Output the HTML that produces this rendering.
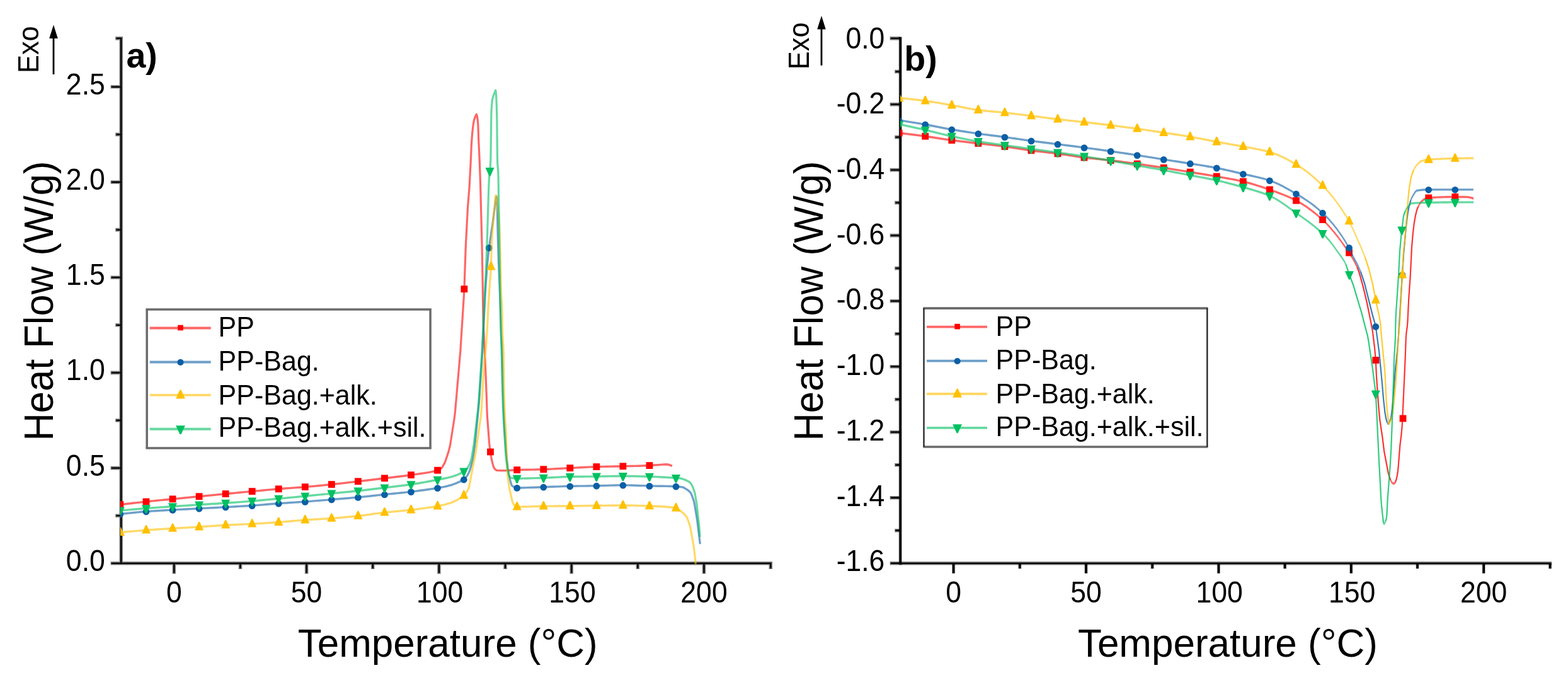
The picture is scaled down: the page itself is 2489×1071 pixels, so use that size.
<!DOCTYPE html>
<html lang="en"><head><meta charset="utf-8"><title>DSC curves: cooling (a) and heating (b)</title>
<style>html,body{margin:0;padding:0;background:#fff}body{width:2489px;height:1071px;overflow:hidden}svg{display:block}text{font-family:"Liberation Sans", sans-serif;fill:#000}</style></head><body>
<svg width="2489" height="1071" viewBox="0 0 2489 1071" role="img" aria-label="DSC thermograms of PP and PP-bagasse composites: a) cooling, b) heating">
<rect width="2489" height="1071" fill="#fff"/>
<g id="panel-a">
<path d="M192.2 58.1 V896.6 M276.3 893.8 V910.4 M486.6 893.8 V910.4 M696.9 893.8 V910.4 M907.2 893.8 V910.4 M1117.5 893.8 V910.4 M381.45 893.8 V903 M591.75 893.8 V903 M802.05 893.8 V903 M1012.35 893.8 V903 M1223.3 893.8 V903 M189.4 893.8 H1226.1 M175.6 893.8 H192.2 M175.6 742.6 H192.2 M175.6 591.4 H192.2 M175.6 440.2 H192.2 M175.6 289 H192.2 M175.6 137.8 H192.2 M183.2 818.2 H192.2 M183.2 667 H192.2 M183.2 515.8 H192.2 M183.2 364.6 H192.2 M183.2 213.4 H192.2 M183.2 60.9 H192.2" stroke="#000" stroke-opacity="0.5" stroke-width="5.6" fill="none"/>
<path d="M192.2 59.75 V894.95 M276.3 893.8 V909.2 M486.6 893.8 V909.2 M696.9 893.8 V909.2 M907.2 893.8 V909.2 M1117.5 893.8 V909.2 M381.45 893.8 V901.8 M591.75 893.8 V901.8 M802.05 893.8 V901.8 M1012.35 893.8 V901.8 M1223.3 893.8 V901.8 M191.05 893.8 H1224.45 M176.8 893.8 H192.2 M176.8 742.6 H192.2 M176.8 591.4 H192.2 M176.8 440.2 H192.2 M176.8 289 H192.2 M176.8 137.8 H192.2 M184.4 818.2 H192.2 M184.4 667 H192.2 M184.4 515.8 H192.2 M184.4 364.6 H192.2 M184.4 213.4 H192.2 M184.4 60.9 H192.2" stroke="#000" stroke-width="2.3" fill="none"/>
<g font-size="47.4" fill="#000">
<text transform="translate(276.3 955.6) scale(0.94 1)" text-anchor="middle">0</text>
<text transform="translate(486.6 955.6) scale(0.94 1)" text-anchor="middle">50</text>
<text transform="translate(698.2 955.6) scale(0.94 1)" text-anchor="middle">100</text>
<text transform="translate(908.5 955.6) scale(0.94 1)" text-anchor="middle">150</text>
<text transform="translate(1117.5 955.6) scale(0.94 1)" text-anchor="middle">200</text>
<text transform="translate(166.8 905.8) scale(0.94 1)" text-anchor="end">0.0</text>
<text transform="translate(166.8 754.6) scale(0.94 1)" text-anchor="end">0.5</text>
<text transform="translate(166.8 603.4) scale(0.94 1)" text-anchor="end">1.0</text>
<text transform="translate(166.8 452.2) scale(0.94 1)" text-anchor="end">1.5</text>
<text transform="translate(166.8 301) scale(0.94 1)" text-anchor="end">2.0</text>
<text transform="translate(166.8 149.8) scale(0.94 1)" text-anchor="end">2.5</text>
</g>
<rect x="233.2" y="491" width="449.9" height="220" fill="#fff"/>
<path d="M231.45 491H684.85 M231.45 711H684.85" stroke="#6b6b6b" stroke-width="3.5" fill="none"/>
<path d="M233.2 491V711 M683.1 491V711" stroke="#6b6b6b" stroke-width="3.5" fill="none"/>
<path d="M237.7 520.5 H334.7" stroke="#ff0000" stroke-opacity="0.6" stroke-width="3.9" fill="none"/>
<rect x="282.18" y="515.68" width="8.64" height="8.64" fill="#ff0000"/>
<text transform="translate(346.6 533.6) scale(0.96 1)" font-size="44.8">PP</text>
<path d="M237.7 574.5 H334.7" stroke="#0b5fa5" stroke-opacity="0.6" stroke-width="3.9" fill="none"/>
<circle cx="286.5" cy="574.9" r="5.08" fill="#0b5fa5"/>
<text transform="translate(346.6 588.1) scale(0.96 1)" font-size="44.8">PP-Bag.</text>
<path d="M237.7 626.9 H334.7" stroke="#ffc000" stroke-opacity="0.6" stroke-width="3.9" fill="none"/>
<path d="M285.45 618.61H287.55L293.85 632.57H279.15Z" fill="#ffc000"/>
<text transform="translate(346.6 641.5) scale(0.96 1)" font-size="44.8">PP-Bag.+alk.</text>
<path d="M237.7 680.8 H334.7" stroke="#00c060" stroke-opacity="0.6" stroke-width="3.9" fill="none"/>
<path d="M279.15 675.13H293.85L287.55 689.09H285.45Z" fill="#00c060"/>
<text transform="translate(346.6 693.4) scale(0.96 1)" font-size="44.8">PP-Bag.+alk.+sil.</text>
<clipPath id="clip-a"><rect x="191.2" y="0" width="1100" height="894"/></clipPath>
<g id="ca-red">
<path transform="scale(0.9412 1)" d="M204.53 800.5 L211.17 799.75 L217.81 799.02 L224.45 798.29 L231.09 797.59 L237.73 796.89 L244.37 796.21 L251.02 795.55 L257.66 794.91 L264.3 794.28 L270.94 793.66 L277.58 793.05 L284.22 792.44 L290.86 791.83 L297.5 791.21 L304.14 790.6 L310.78 789.99 L317.42 789.39 L324.06 788.78 L330.7 788.17 L337.34 787.56 L343.98 786.95 L350.62 786.34 L357.27 785.73 L363.91 785.12 L370.55 784.51 L377.19 783.9 L383.83 783.3 L390.47 782.7 L397.11 782.1 L403.75 781.5 L410.39 780.91 L417.03 780.32 L423.67 779.73 L430.31 779.15 L436.95 778.57 L443.59 777.99 L450.23 777.42 L456.87 776.85 L463.52 776.31 L470.16 775.78 L476.8 775.28 L483.44 774.81 L490.08 774.36 L496.72 773.9 L503.36 773.44 L510 772.95 L516.64 772.43 L523.28 771.89 L529.92 771.32 L536.56 770.73 L543.2 770.13 L549.84 769.51 L556.48 768.87 L563.12 768.22 L569.77 767.53 L576.41 766.83 L583.05 766.11 L589.69 765.37 L596.33 764.64 L602.97 763.9 L609.61 763.18 L616.25 762.44 L622.89 761.7 L629.53 760.96 L636.17 760.21 L642.81 759.46 L649.45 758.7 L656.09 757.96 L662.73 757.23 L669.37 756.5 L676.02 755.75 L682.66 754.97 L689.3 754.13 L695.94 753.24 L702.58 752.4 L709.22 751.56 L715.86 750.66 L722.5 749.61 L729.14 748.34 L735.78 746.79 L741.62 744.78 L744.02 743.3 L745.87 741.32 L750.66 733.08 L756.5 716.6 L759.16 706.48 L765.8 666.66 L767.39 655.56 L774.03 583.86 L776.42 557.47 L782.27 471.36 L783.06 456.41 L785.45 391.39 L788.91 329 L791.56 298 L793.95 255.08 L795.02 231.6 L796.34 212.84 L797.67 201.01 L798.73 194.18 L799.53 190.6 L800.86 186.65 L802.98 182.22 L803.57 181.3 L803.83 181.74 L804.37 183.42 L805.16 187.21 L805.69 191.18 L806.22 197 L806.49 202.64 L807.02 218.69 L808.88 256.49 L810.21 293.17 L812.87 390.24 L814.19 457.05 L814.72 495.14 L814.99 507.24 L815.52 521.2 L818.97 589.33 L820.83 635.98 L821.37 652.31 L821.9 662.33 L825.08 702.39 L825.88 709.25 L829.33 730.01 L831.46 737.93 L832.79 741.45 L833.58 742.91 L836.24 745.38 L838.1 746.38 L844.74 746.6 L851.38 746.59 L858.02 746.35 L864.66 745.95 L871.3 745.62 L877.94 745.45 L884.58 745.31 L891.22 745.19 L897.87 745.09 L904.51 744.98 L911.15 744.84 L917.79 744.67 L924.43 744.43 L931.07 744.14 L937.71 743.82 L944.35 743.47 L950.99 743.11 L957.63 742.78 L964.27 742.46 L970.91 742.13 L977.55 741.8 L984.19 741.46 L990.83 741.15 L997.47 740.87 L1004.12 740.65 L1010.76 740.49 L1017.4 740.36 L1024.04 740.24 L1030.68 740.14 L1037.32 740.04 L1043.96 739.93 L1050.6 739.8 L1057.24 739.66 L1063.88 739.52 L1070.52 739.37 L1077.16 739.21 L1083.8 739.01 L1090.44 738.79 L1097.08 738.52 L1103.72 738.07 L1110.37 737.6 L1117.01 737.14 L1123.65 736.82 L1127.63 737.1 L1133.69 739.4" fill="none" stroke="#ff0000" stroke-linejoin="round" stroke-width="3.4" stroke-opacity="0.6"/>
<g clip-path="url(#clip-a)"><rect x="185.4" y="795.1" width="10.8" height="10.8" fill="#ff0000"/></g>
<rect x="226.6" y="790.6" width="10.8" height="10.8" fill="#ff0000"/>
<rect x="268.65" y="786.4" width="10.8" height="10.8" fill="#ff0000"/>
<rect x="310.7" y="782.3" width="10.8" height="10.8" fill="#ff0000"/>
<rect x="352.75" y="778.2" width="10.8" height="10.8" fill="#ff0000"/>
<rect x="394.8" y="774.2" width="10.8" height="10.8" fill="#ff0000"/>
<rect x="436.85" y="770.4" width="10.8" height="10.8" fill="#ff0000"/>
<rect x="478.9" y="767.2" width="10.8" height="10.8" fill="#ff0000"/>
<rect x="520.95" y="763.2" width="10.8" height="10.8" fill="#ff0000"/>
<rect x="563" y="758.4" width="10.8" height="10.8" fill="#ff0000"/>
<rect x="605.05" y="753.4" width="10.8" height="10.8" fill="#ff0000"/>
<rect x="647.1" y="748.2" width="10.8" height="10.8" fill="#ff0000"/>
<rect x="689.15" y="740.8" width="10.8" height="10.8" fill="#ff0000"/>
<rect x="731.5" y="453.2" width="10.8" height="10.8" fill="#ff0000"/>
<rect x="773.1" y="711.6" width="10.8" height="10.8" fill="#ff0000"/>
<rect x="815.3" y="740.2" width="10.8" height="10.8" fill="#ff0000"/>
<rect x="857.35" y="739.3" width="10.8" height="10.8" fill="#ff0000"/>
<rect x="899.4" y="737.2" width="10.8" height="10.8" fill="#ff0000"/>
<rect x="941.45" y="735.2" width="10.8" height="10.8" fill="#ff0000"/>
<rect x="983.5" y="734.4" width="10.8" height="10.8" fill="#ff0000"/>
<rect x="1025.55" y="733.2" width="10.8" height="10.8" fill="#ff0000"/>
</g>
<g id="ca-blue">
<path transform="scale(0.9412 1)" d="M204.53 815.5 L211.17 814.79 L217.81 814.1 L224.45 813.45 L231.09 812.84 L237.73 812.27 L244.37 811.76 L251.02 811.29 L257.66 810.86 L264.3 810.46 L270.94 810.08 L277.58 809.72 L284.22 809.37 L290.86 809.02 L297.5 808.67 L304.14 808.33 L310.78 808.01 L317.42 807.69 L324.06 807.37 L330.7 807.05 L337.34 806.73 L343.98 806.4 L350.62 806.08 L357.27 805.76 L363.91 805.43 L370.55 805.1 L377.19 804.77 L383.83 804.43 L390.47 804.1 L397.11 803.76 L403.75 803.42 L410.39 803.07 L417.03 802.69 L423.67 802.3 L430.31 801.86 L436.95 801.37 L443.59 800.85 L450.23 800.31 L456.87 799.78 L463.52 799.26 L470.16 798.78 L476.8 798.34 L483.44 797.93 L490.08 797.53 L496.72 797.13 L503.36 796.73 L510 796.31 L516.64 795.86 L523.28 795.38 L529.92 794.89 L536.56 794.38 L543.2 793.86 L549.84 793.34 L556.48 792.82 L563.12 792.3 L569.77 791.78 L576.41 791.27 L583.05 790.74 L589.69 790.21 L596.33 789.66 L602.97 789.08 L609.61 788.48 L616.25 787.85 L622.89 787.19 L629.53 786.52 L636.17 785.85 L642.81 785.18 L649.45 784.52 L656.09 783.88 L662.73 783.25 L669.37 782.63 L676.02 782 L682.66 781.34 L689.3 780.64 L695.94 779.9 L702.58 779.11 L709.22 778.3 L715.86 777.44 L722.5 776.53 L729.14 775.57 L735.78 774.55 L742.42 773.47 L749.06 772.32 L755.7 770.96 L762.34 769.24 L768.98 766.85 L775.62 764.14 L782.27 760.84 L785.45 758.06 L788.91 753.5 L791.3 748.83 L794.48 739.81 L797.14 729.88 L799 719.68 L801.12 704.28 L807.77 639.93 L813.08 565.61 L818.66 459.63 L821.58 421.71 L824.5 394.61 L831.14 352.62 L835.92 318.3 L837.25 312 L837.52 312.44 L837.78 313.67 L838.31 318 L838.58 325.12 L839.37 366 L840.97 417.15 L843.36 472.13 L845.22 524.55 L846.55 552.48 L847.08 568.4 L848.41 623.02 L849.47 653.65 L851.06 682.01 L853.98 720.71 L856.37 742.93 L857.44 750 L859.3 758.47 L862.48 768.67 L863.28 770.37 L863.81 771 L868.06 773.29 L871.52 773.99 L878.16 773.96 L884.8 773.84 L891.44 773.65 L898.08 773.43 L904.72 773.2 L911.36 772.97 L918 772.76 L924.64 772.55 L931.28 772.32 L937.92 772.08 L944.56 771.85 L951.2 771.65 L957.84 771.47 L964.48 771.34 L971.12 771.24 L977.77 771.16 L984.41 771.08 L991.05 771.01 L997.69 770.92 L1004.33 770.83 L1010.97 770.7 L1017.61 770.53 L1024.25 770.33 L1030.89 770.13 L1037.53 769.96 L1044.17 769.84 L1050.81 769.8 L1057.45 769.86 L1064.09 770 L1070.73 770.2 L1077.38 770.43 L1084.02 770.67 L1090.66 770.88 L1097.3 771.04 L1103.94 771.15 L1110.58 771.23 L1117.22 771.31 L1123.86 771.4 L1130.5 771.53 L1137.14 771.7 L1143.78 772.03 L1150.42 772.94 L1153.34 773.72 L1159.98 777.63 L1163.17 780.09 L1164.77 782.01 L1166.89 786 L1169.81 793.8 L1171.14 798.94 L1175.66 824.11 L1180.76 863.3" fill="none" stroke="#0b5fa5" stroke-linejoin="round" stroke-width="3.4" stroke-opacity="0.6"/>
<g clip-path="url(#clip-a)"><circle cx="190.8" cy="815.9" r="5.35" fill="#0b5fa5"/></g>
<circle cx="232" cy="812" r="5.35" fill="#0b5fa5"/>
<circle cx="274.05" cy="809.4" r="5.35" fill="#0b5fa5"/>
<circle cx="316.1" cy="807.2" r="5.35" fill="#0b5fa5"/>
<circle cx="358.15" cy="805" r="5.35" fill="#0b5fa5"/>
<circle cx="400.2" cy="802.6" r="5.35" fill="#0b5fa5"/>
<circle cx="442.25" cy="799.2" r="5.35" fill="#0b5fa5"/>
<circle cx="484.3" cy="796.4" r="5.35" fill="#0b5fa5"/>
<circle cx="526.35" cy="793" r="5.35" fill="#0b5fa5"/>
<circle cx="568.4" cy="789.4" r="5.35" fill="#0b5fa5"/>
<circle cx="610.45" cy="785" r="5.35" fill="#0b5fa5"/>
<circle cx="652.5" cy="780.6" r="5.35" fill="#0b5fa5"/>
<circle cx="694.55" cy="774.6" r="5.35" fill="#0b5fa5"/>
<circle cx="736.3" cy="761.2" r="5.35" fill="#0b5fa5"/>
<circle cx="776.2" cy="393.4" r="5.35" fill="#0b5fa5"/>
<circle cx="820.7" cy="774.4" r="5.35" fill="#0b5fa5"/>
<circle cx="862.75" cy="773.2" r="5.35" fill="#0b5fa5"/>
<circle cx="904.8" cy="771.8" r="5.35" fill="#0b5fa5"/>
<circle cx="946.85" cy="771.2" r="5.35" fill="#0b5fa5"/>
<circle cx="988.9" cy="770.2" r="5.35" fill="#0b5fa5"/>
<circle cx="1030.95" cy="771.4" r="5.35" fill="#0b5fa5"/>
<circle cx="1073" cy="772.2" r="5.35" fill="#0b5fa5"/>
</g>
<g id="ca-yellow">
<path transform="scale(0.9412 1)" d="M204.53 844.5 L211.17 843.93 L217.81 843.38 L224.45 842.85 L231.09 842.33 L237.73 841.83 L244.37 841.35 L251.02 840.89 L257.66 840.45 L264.3 840.02 L270.94 839.6 L277.58 839.2 L284.22 838.81 L290.86 838.42 L297.5 838.04 L304.14 837.69 L310.78 837.34 L317.42 837 L324.06 836.65 L330.7 836.29 L337.34 835.91 L343.98 835.5 L350.62 835.07 L357.27 834.63 L363.91 834.19 L370.55 833.77 L377.19 833.38 L383.83 833.03 L390.47 832.72 L397.11 832.43 L403.75 832.15 L410.39 831.88 L417.03 831.59 L423.67 831.28 L430.31 830.94 L436.95 830.59 L443.59 830.22 L450.23 829.84 L456.87 829.44 L463.52 829.02 L470.16 828.58 L476.8 828.1 L483.44 827.56 L490.08 826.99 L496.72 826.41 L503.36 825.85 L510 825.33 L516.64 824.86 L523.28 824.45 L529.92 824.08 L536.56 823.73 L543.2 823.37 L549.84 823 L556.48 822.59 L563.12 822.13 L569.77 821.63 L576.41 821.1 L583.05 820.55 L589.69 819.96 L596.33 819.34 L602.97 818.7 L609.61 817.99 L616.25 817.21 L622.89 816.37 L629.53 815.51 L636.17 814.66 L642.81 813.85 L649.45 813.11 L656.09 812.45 L662.73 811.84 L669.37 811.26 L676.02 810.68 L682.66 810.08 L689.3 809.43 L695.94 808.71 L702.58 807.95 L709.22 807.16 L715.86 806.33 L722.5 805.43 L729.14 804.45 L735.78 803.37 L742.42 802.19 L749.06 800.81 L755.7 799.16 L762.34 797.11 L768.98 794.3 L775.62 790.82 L782.27 786.05 L786.25 781.75 L789.17 777.09 L790.5 774.3 L791.56 770.85 L798.2 737.4 L802.72 715.57 L809.36 671 L810.95 660.95 L811.75 653.77 L816.27 579.2 L816.8 572.55 L817.59 565.8 L818.92 557.04 L819.72 549.76 L821.58 524.55 L823.7 483.62 L826.09 450.35 L827.42 434.82 L827.95 426.15 L828.22 420.34 L828.75 400.44 L829.55 381.77 L830.87 360.73 L832.47 342.66 L834.06 329 L835.12 315.65 L835.39 312.96 L835.66 311.29 L835.92 310.75 L836.45 310.14 L836.82 310 L839.75 329.24 L841.07 341.18 L841.87 351.39 L842.4 362.06 L844.26 427.21 L845.06 460.53 L845.32 468 L845.59 472.53 L846.39 481.58 L846.65 486.68 L846.92 500.22 L847.18 519.71 L847.45 528.35 L847.98 538.48 L848.78 549.36 L849.04 554.88 L849.31 562.62 L849.57 580.06 L849.84 607.92 L850.11 624.12 L850.64 641.89 L851.43 658.93 L853.03 680.66 L853.56 692.39 L854.89 734.64 L855.15 740.79 L855.95 751.68 L857.01 761.77 L858.87 773.8 L864.18 795.75 L865.25 798.8 L865.78 799.79 L868.7 802.8 L870.29 803.8 L871.62 804.18 L878.26 804.15 L884.9 804.03 L891.54 803.84 L898.18 803.64 L904.82 803.44 L911.47 803.28 L918.11 803.19 L924.75 803.13 L931.39 803.08 L938.03 803.05 L944.67 803.01 L951.31 802.97 L957.95 802.93 L964.59 802.87 L971.23 802.79 L977.87 802.7 L984.51 802.6 L991.15 802.5 L997.79 802.4 L1004.43 802.32 L1011.07 802.24 L1017.72 802.16 L1024.36 802.08 L1031 802.01 L1037.64 801.95 L1044.28 801.91 L1050.92 801.9 L1057.56 801.93 L1064.2 802.02 L1070.84 802.16 L1077.48 802.33 L1084.12 802.53 L1090.76 802.74 L1097.4 802.97 L1104.04 803.19 L1110.68 803.44 L1117.32 803.76 L1123.97 804.2 L1130.61 804.8 L1137.25 805.59 L1140.97 806.22 L1147.61 810.54 L1154.25 815.81 L1157.7 819.85 L1159.29 822.58 L1162.22 830.06 L1164.34 837.17 L1169.65 865.24 L1171.78 880.67 L1173.32 895" fill="none" stroke="#ffc000" stroke-linejoin="round" stroke-width="3.4" stroke-opacity="0.6"/>
<g clip-path="url(#clip-a)"><path d="M189.8 836.6H191.8L197.8 849.9H183.8Z" fill="#ffc000"/></g>
<path d="M231 833.3H233L239 846.6H225Z" fill="#ffc000"/>
<path d="M273.05 830.5H275.05L281.05 843.8H267.05Z" fill="#ffc000"/>
<path d="M315.1 828.1H317.1L323.1 841.4H309.1Z" fill="#ffc000"/>
<path d="M357.15 825.3H359.15L365.15 838.6H351.15Z" fill="#ffc000"/>
<path d="M399.2 823.3H401.2L407.2 836.6H393.2Z" fill="#ffc000"/>
<path d="M441.25 820.7H443.25L449.25 834H435.25Z" fill="#ffc000"/>
<path d="M483.3 817.1H485.3L491.3 830.4H477.3Z" fill="#ffc000"/>
<path d="M525.35 814.5H527.35L533.35 827.8H519.35Z" fill="#ffc000"/>
<path d="M567.4 810.7H569.4L575.4 824H561.4Z" fill="#ffc000"/>
<path d="M609.45 805.3H611.45L617.45 818.6H603.45Z" fill="#ffc000"/>
<path d="M651.5 801.1H653.5L659.5 814.4H645.5Z" fill="#ffc000"/>
<path d="M693.55 795.1H695.55L701.55 808.4H687.55Z" fill="#ffc000"/>
<path d="M735.3 778.1H737.3L743.3 791.4H729.3Z" fill="#ffc000"/>
<path d="M778.4 415.1H780.4L786.4 428.4H772.4Z" fill="#ffc000"/>
<path d="M819.7 796.3H821.7L827.7 809.6H813.7Z" fill="#ffc000"/>
<path d="M861.75 795.3H863.75L869.75 808.6H855.75Z" fill="#ffc000"/>
<path d="M903.8 795H905.8L911.8 808.3H897.8Z" fill="#ffc000"/>
<path d="M945.85 794.4H947.85L953.85 807.7H939.85Z" fill="#ffc000"/>
<path d="M987.9 794H989.9L995.9 807.3H981.9Z" fill="#ffc000"/>
<path d="M1029.95 795H1031.95L1037.95 808.3H1023.95Z" fill="#ffc000"/>
<path d="M1072 798.1H1074L1080 811.4H1066Z" fill="#ffc000"/>
</g>
<g id="ca-green">
<path transform="scale(0.9412 1)" d="M204.53 810 L211.17 809.42 L217.81 808.86 L224.45 808.31 L231.09 807.78 L237.73 807.26 L244.37 806.76 L251.02 806.27 L257.66 805.81 L264.3 805.35 L270.94 804.91 L277.58 804.48 L284.22 804.05 L290.86 803.62 L297.5 803.19 L304.14 802.77 L310.78 802.35 L317.42 801.93 L324.06 801.52 L330.7 801.11 L337.34 800.71 L343.98 800.32 L350.62 799.95 L357.27 799.57 L363.91 799.2 L370.55 798.81 L377.19 798.41 L383.83 797.99 L390.47 797.54 L397.11 797.09 L403.75 796.61 L410.39 796.13 L417.03 795.63 L423.67 795.12 L430.31 794.6 L436.95 794.05 L443.59 793.49 L450.23 792.92 L456.87 792.34 L463.52 791.76 L470.16 791.18 L476.8 790.59 L483.44 790.01 L490.08 789.42 L496.72 788.82 L503.36 788.22 L510 787.62 L516.64 787.01 L523.28 786.39 L529.92 785.77 L536.56 785.15 L543.2 784.52 L549.84 783.89 L556.48 783.26 L563.12 782.64 L569.77 782.03 L576.41 781.42 L583.05 780.81 L589.69 780.19 L596.33 779.56 L602.97 778.9 L609.61 778.21 L616.25 777.49 L622.89 776.75 L629.53 775.99 L636.17 775.23 L642.81 774.46 L649.45 773.7 L656.09 772.96 L662.73 772.23 L669.37 771.5 L676.02 770.75 L682.66 769.97 L689.3 769.13 L695.94 768.23 L702.58 767.25 L709.22 766.2 L715.86 765.1 L722.5 763.96 L729.14 762.78 L735.78 761.59 L742.42 760.41 L749.06 759.24 L755.7 757.92 L762.34 756.3 L768.98 754.21 L775.62 751.6 L782.27 748.03 L786.52 744.7 L789.44 741.12 L792.09 736.31 L794.22 731 L795.28 727.18 L799.27 704.25 L805.91 651.24 L808.03 629.3 L812.81 559.42 L819.45 432.32 L821.31 388 L824.23 297.56 L824.77 285.83 L825.3 279.23 L826.89 263.22 L827.42 255.09 L827.69 245.61 L828.48 186.71 L828.75 176 L829.28 168.12 L829.81 162.54 L830.34 158.7 L831.14 154.92 L832.2 151.71 L835.76 143.2 L836.03 143.95 L836.29 145.93 L836.82 152 L837.09 156.12 L837.62 169.36 L838.15 190.41 L838.68 244.63 L838.95 256.68 L839.22 261.54 L840.01 270.19 L840.28 274.79 L840.54 283.26 L841.07 315.9 L844 500.46 L844.53 523.78 L845.86 556.26 L847.18 613.71 L848.25 645.28 L849.57 671.57 L852.76 718.86 L854.09 731.11 L855.95 742.87 L858.07 752.57 L858.87 755.1 L859.4 756.07 L861 757.75 L862.06 758.41 L868.7 759.13 L875.34 759.19 L881.98 759.12 L888.62 759 L895.26 758.84 L901.9 758.65 L908.54 758.44 L915.18 758.24 L921.82 758.03 L928.47 757.74 L935.11 757.42 L941.75 757.09 L948.39 756.79 L955.03 756.54 L961.67 756.4 L968.31 756.31 L974.95 756.25 L981.59 756.19 L988.23 756.15 L994.87 756.1 L1001.51 756.04 L1008.15 755.98 L1014.79 755.88 L1021.43 755.76 L1028.07 755.65 L1034.72 755.54 L1041.36 755.45 L1048 755.4 L1054.64 755.41 L1061.28 755.46 L1067.92 755.56 L1074.56 755.68 L1081.2 755.84 L1087.84 756 L1094.48 756.18 L1101.12 756.37 L1107.76 756.63 L1114.4 756.93 L1121.04 757.27 L1127.68 757.64 L1134.32 758.04 L1140.97 758.46 L1147.61 758.97 L1154.25 760.82 L1160.89 763.7 L1164.07 765.99 L1165.93 768.28 L1168.59 773.29 L1170.98 779.43 L1172.31 784.55 L1174.97 799.31 L1179.22 835.94 L1180.01 845.58 L1180.44 852" fill="none" stroke="#00c060" stroke-linejoin="round" stroke-width="3.4" stroke-opacity="0.6"/>
<g clip-path="url(#clip-a)"><path d="M183.8 804.6H197.8L191.8 817.9H189.8Z" fill="#00c060"/></g>
<path d="M225 801.2H239L233 814.5H231Z" fill="#00c060"/>
<path d="M267.05 798.2H281.05L275.05 811.5H273.05Z" fill="#00c060"/>
<path d="M309.1 795.4H323.1L317.1 808.7H315.1Z" fill="#00c060"/>
<path d="M351.15 792.8H365.15L359.15 806.1H357.15Z" fill="#00c060"/>
<path d="M393.2 789.6H407.2L401.2 802.9H399.2Z" fill="#00c060"/>
<path d="M435.25 785.8H449.25L443.25 799.1H441.25Z" fill="#00c060"/>
<path d="M477.3 781.8H491.3L485.3 795.1H483.3Z" fill="#00c060"/>
<path d="M519.35 777.6H533.35L527.35 790.9H525.35Z" fill="#00c060"/>
<path d="M561.4 773.4H575.4L569.4 786.7H567.4Z" fill="#00c060"/>
<path d="M603.45 768.4H617.45L611.45 781.7H609.45Z" fill="#00c060"/>
<path d="M645.5 763.2H659.5L653.5 776.5H651.5Z" fill="#00c060"/>
<path d="M687.55 755.8H701.55L695.55 769.1H693.55Z" fill="#00c060"/>
<path d="M729.3 742.6H743.3L737.3 755.9H735.3Z" fill="#00c060"/>
<path d="M770.5 266.1H784.5L778.5 279.4H776.5Z" fill="#00c060"/>
<path d="M813.7 753.8H827.7L821.7 767.1H819.7Z" fill="#00c060"/>
<path d="M855.75 752.8H869.75L863.75 766.1H861.75Z" fill="#00c060"/>
<path d="M897.8 751H911.8L905.8 764.3H903.8Z" fill="#00c060"/>
<path d="M939.85 750.6H953.85L947.85 763.9H945.85Z" fill="#00c060"/>
<path d="M981.9 750H995.9L989.9 763.3H987.9Z" fill="#00c060"/>
<path d="M1023.95 750.8H1037.95L1031.95 764.1H1029.95Z" fill="#00c060"/>
<path d="M1066 753H1080L1074 766.3H1072Z" fill="#00c060"/>
</g>
<text transform="translate(60.6 116) rotate(-90) scale(0.953 1)" font-size="45.5">Exo</text>
<path d="M85 51.5 V118" stroke="#000" stroke-width="2.8" fill="none"/>
<path d="M85 39.5 L91.8 61 L78.2 61 Z" fill="#000"/>
<text transform="translate(200.4 106.8) scale(1.01 1)" font-size="55" font-weight="bold">a)</text>
<text transform="translate(84.0 699.6) rotate(-90) scale(0.962 1)" font-size="63.9">Heat Flow (W/g)</text>
<text transform="translate(472.7 1042.4) scale(0.97 1)" font-size="63.9">Temperature (°C)</text>
</g>
<g id="panel-b">
<path d="M1426.4 893.8 H2463.4 M1412.6 60.9 H1429.2 M1412.6 165.62 H1429.2 M1412.6 269.64 H1429.2 M1412.6 373.66 H1429.2 M1412.6 477.68 H1429.2 M1412.6 581.7 H1429.2 M1412.6 685.72 H1429.2 M1412.6 789.74 H1429.2 M1412.6 893.76 H1429.2 M1420.2 113.61 H1429.2 M1420.2 217.63 H1429.2 M1420.2 321.65 H1429.2 M1420.2 425.67 H1429.2 M1420.2 529.69 H1429.2 M1420.2 633.71 H1429.2 M1420.2 737.73 H1429.2 M1420.2 841.75 H1429.2" stroke="#000" stroke-opacity="0.5" stroke-width="5.6" fill="none"/>
<path d="M1429.2 58.3 V896.4 M1513.6 893.8 V910 M1724 893.8 V910 M1934.4 893.8 V910 M2144.8 893.8 V910 M2355.2 893.8 V910 M1618.8 893.8 V902.6 M1829.2 893.8 V902.6 M2039.6 893.8 V902.6 M2250 893.8 V902.6 M2460.6 893.8 V902.6" stroke="#000" stroke-opacity="0.35" stroke-width="5.2" fill="none"/>
<path d="M1428.05 893.8 H2461.75 M1413.8 60.9 H1429.2 M1413.8 165.62 H1429.2 M1413.8 269.64 H1429.2 M1413.8 373.66 H1429.2 M1413.8 477.68 H1429.2 M1413.8 581.7 H1429.2 M1413.8 685.72 H1429.2 M1413.8 789.74 H1429.2 M1413.8 893.76 H1429.2 M1421.4 113.61 H1429.2 M1421.4 217.63 H1429.2 M1421.4 321.65 H1429.2 M1421.4 425.67 H1429.2 M1421.4 529.69 H1429.2 M1421.4 633.71 H1429.2 M1421.4 737.73 H1429.2 M1421.4 841.75 H1429.2" stroke="#000" stroke-width="2.3" fill="none"/>
<path d="M1429.2 59.1 V895.6 M1513.6 893.8 V909.4 M1724 893.8 V909.4 M1934.4 893.8 V909.4 M2144.8 893.8 V909.4 M2355.2 893.8 V909.4 M1618.8 893.8 V902 M1829.2 893.8 V902 M2039.6 893.8 V902 M2250 893.8 V902 M2460.6 893.8 V902" stroke="#000" stroke-width="3.6" fill="none"/>
<g font-size="47.4" fill="#000">
<text transform="translate(1513.6 955.6) scale(0.94 1)" text-anchor="middle">0</text>
<text transform="translate(1724 955.6) scale(0.94 1)" text-anchor="middle">50</text>
<text transform="translate(1935.7 955.6) scale(0.94 1)" text-anchor="middle">100</text>
<text transform="translate(2146.1 955.6) scale(0.94 1)" text-anchor="middle">150</text>
<text transform="translate(2355.2 955.6) scale(0.94 1)" text-anchor="middle">200</text>
<text transform="translate(1404.4 76.5) scale(0.94 1)" text-anchor="end">0.0</text>
<text transform="translate(1404.4 180.22) scale(0.94 1)" text-anchor="end">-0.2</text>
<text transform="translate(1404.4 283.94) scale(0.94 1)" text-anchor="end">-0.4</text>
<text transform="translate(1404.4 387.66) scale(0.94 1)" text-anchor="end">-0.6</text>
<text transform="translate(1404.4 491.38) scale(0.94 1)" text-anchor="end">-0.8</text>
<text transform="translate(1404.4 595.1) scale(0.94 1)" text-anchor="end">-1.0</text>
<text transform="translate(1404.4 698.82) scale(0.94 1)" text-anchor="end">-1.2</text>
<text transform="translate(1404.4 802.54) scale(0.94 1)" text-anchor="end">-1.4</text>
<text transform="translate(1404.4 906.26) scale(0.94 1)" text-anchor="end">-1.6</text>
</g>
<rect x="1466.5" y="489.1" width="449.8" height="219.9" fill="#fff"/>
<path d="M1465.35 489.1H1917.45 M1465.35 709H1917.45" stroke="#6b6b6b" stroke-width="3.6" fill="none"/>
<path d="M1466.5 489.1V709 M1916.3 489.1V709" stroke="#222" stroke-width="2.3" fill="none"/>
<path d="M1471.1 518.6 H1567" stroke="#ff0000" stroke-opacity="0.6" stroke-width="3.9" fill="none"/>
<rect x="1515.28" y="513.78" width="8.64" height="8.64" fill="#ff0000"/>
<text transform="translate(1580.6 532.7) scale(0.96 1)" font-size="44.8">PP</text>
<path d="M1471.1 572.6 H1567" stroke="#0b5fa5" stroke-opacity="0.6" stroke-width="3.9" fill="none"/>
<circle cx="1519.6" cy="573" r="5.08" fill="#0b5fa5"/>
<text transform="translate(1580.6 585.9) scale(0.96 1)" font-size="44.8">PP-Bag.</text>
<path d="M1471.1 625 H1567" stroke="#ffc000" stroke-opacity="0.6" stroke-width="3.9" fill="none"/>
<path d="M1518.55 616.71H1520.65L1526.95 630.67H1512.25Z" fill="#ffc000"/>
<text transform="translate(1580.6 639.5) scale(0.96 1)" font-size="44.8">PP-Bag.+alk.</text>
<path d="M1471.1 678.9 H1567" stroke="#00c060" stroke-opacity="0.6" stroke-width="3.9" fill="none"/>
<path d="M1512.25 673.23H1526.95L1520.65 687.19H1518.55Z" fill="#00c060"/>
<text transform="translate(1580.6 691.6) scale(0.96 1)" font-size="44.8">PP-Bag.+alk.+sil.</text>
<clipPath id="clip-b"><rect x="1429" y="0" width="1100" height="894"/></clipPath>
<g id="cb-red">
<path transform="scale(0.5882 1)" d="M2430.15 211.2 L2440.78 211.94 L2451.4 212.7 L2462.03 213.49 L2472.65 214.29 L2483.28 215.12 L2493.9 215.96 L2504.53 216.84 L2515.15 217.77 L2525.78 218.74 L2536.4 219.73 L2547.03 220.69 L2557.65 221.62 L2568.28 222.49 L2578.9 223.3 L2589.53 224.06 L2600.15 224.8 L2610.78 225.52 L2621.4 226.24 L2632.03 226.96 L2642.65 227.7 L2653.28 228.42 L2663.9 229.14 L2674.53 229.86 L2685.15 230.58 L2695.78 231.34 L2706.4 232.12 L2717.03 232.96 L2727.65 233.87 L2738.28 234.83 L2748.9 235.82 L2759.53 236.8 L2770.15 237.75 L2780.78 238.64 L2791.4 239.45 L2802.03 240.2 L2812.65 240.91 L2823.28 241.62 L2833.9 242.33 L2844.53 243.07 L2855.15 243.87 L2865.78 244.74 L2876.4 245.68 L2887.03 246.66 L2897.65 247.64 L2908.28 248.59 L2918.9 249.47 L2929.53 250.27 L2940.15 250.98 L2950.78 251.64 L2961.4 252.28 L2972.03 252.9 L2982.65 253.55 L2993.28 254.23 L3003.9 254.97 L3014.53 255.74 L3025.15 256.53 L3035.78 257.36 L3046.4 258.19 L3057.03 259.05 L3067.65 259.91 L3078.28 260.78 L3088.9 261.68 L3099.53 262.59 L3110.15 263.51 L3120.78 264.45 L3131.4 265.4 L3142.03 266.36 L3152.65 267.34 L3163.28 268.34 L3173.9 269.35 L3184.53 270.37 L3195.15 271.4 L3205.78 272.43 L3216.4 273.45 L3227.03 274.47 L3237.65 275.48 L3248.28 276.51 L3258.9 277.54 L3269.53 278.6 L3280.15 279.68 L3290.78 280.78 L3301.4 281.87 L3312.03 282.97 L3322.65 284.1 L3333.28 285.29 L3343.9 286.58 L3354.53 287.98 L3365.15 289.53 L3375.78 291.25 L3386.4 293.1 L3397.03 295.07 L3407.65 297.14 L3418.28 299.28 L3428.9 301.46 L3439.53 303.68 L3450.15 305.97 L3460.78 308.37 L3471.4 310.93 L3482.03 313.69 L3492.65 316.69 L3503.28 319.98 L3513.9 323.65 L3524.53 327.69 L3535.15 332.09 L3545.78 336.86 L3556.4 341.99 L3567.03 347.46 L3577.65 353.41 L3588.28 360.03 L3598.9 367.29 L3609.53 375.14 L3620.15 383.53 L3630.78 392.39 L3641.4 401.68 L3652.03 411.48 L3662.65 423.82 L3668.6 433.77 L3679.22 456.47 L3689.42 481.84 L3700.05 512.66 L3703.88 524.69 L3709.4 550.85 L3711.95 567.38 L3712.8 574.84 L3714.5 596.5 L3720.45 646.37 L3723.85 667.16 L3731.07 695.67 L3735.32 716.35 L3745.95 749.11 L3748.92 755.89 L3752.32 761.26 L3755.3 764.72 L3756.57 765.76 L3759.55 767.11 L3760.82 767.38 L3761.67 767.37 L3762.95 766.98 L3764.65 766 L3765.5 765.18 L3768.05 760.79 L3770.17 755.42 L3771.88 749.54 L3773.15 743.08 L3778.25 705.5 L3781.65 689.67 L3783.35 678.82 L3784.62 667.02 L3792.28 567.68 L3793.97 538.66 L3794.4 534 L3795.25 528.24 L3797.8 516.86 L3798.65 511.12 L3801.62 474.15 L3805.88 438.35 L3809.7 393.11 L3812.67 371.85 L3816.07 354.71 L3819.9 341.89 L3823.3 333.75 L3827.12 327.84 L3832.22 322.38 L3836.47 319.35 L3844.12 315.91 L3854.75 313.98 L3865.38 313.52 L3876 313.15 L3886.62 312.86 L3897.25 312.65 L3907.88 312.5 L3918.5 312.42 L3929.12 312.4 L3939.75 312.43 L3950.38 312.49 L3961 312.6 L3971.62 313.97 L3976.64 315" fill="none" stroke="#ff0000" stroke-linejoin="round" stroke-width="3.4" stroke-opacity="0.6"/>
<path d="M2154.5 423.82 L2158 433.77 L2164.25 456.47 L2170.25 481.84 L2176.5 512.66 L2178.75 524.69 L2182 550.85 L2183.5 567.38 L2184 574.84 L2185 596.5 L2188.5 646.37 L2190.5 667.16 L2194.75 695.67 L2197.25 716.35 L2203.5 749.11 L2205.25 755.89 L2207.25 761.26 M2215 765.18 L2216.5 760.79 L2217.75 755.42 L2218.75 749.54 L2219.5 743.08 L2222.5 705.5 L2224.5 689.67 L2225.5 678.82 L2226.25 667.02 L2230.75 567.68 L2231.75 538.66 L2232 534 L2232.5 528.24 L2234 516.86 L2234.5 511.12 L2236.25 474.15 L2238.75 438.35 L2241 393.11 L2242.75 371.85 L2244.75 354.71 L2247 341.89 L2249 333.75 L2251.25 327.84" fill="none" stroke="#ff0000" stroke-linejoin="round" stroke-width="2" stroke-opacity="0.55"/>
<g clip-path="url(#clip-b)"><rect x="1421.8" y="205.8" width="10.8" height="10.8" fill="#ff0000"/></g>
<rect x="1463.35" y="210.8" width="10.8" height="10.8" fill="#ff0000"/>
<rect x="1505.4" y="217.1" width="10.8" height="10.8" fill="#ff0000"/>
<rect x="1547.45" y="222.1" width="10.8" height="10.8" fill="#ff0000"/>
<rect x="1589.5" y="227.1" width="10.8" height="10.8" fill="#ff0000"/>
<rect x="1631.55" y="233.4" width="10.8" height="10.8" fill="#ff0000"/>
<rect x="1673.6" y="238.4" width="10.8" height="10.8" fill="#ff0000"/>
<rect x="1715.65" y="244.6" width="10.8" height="10.8" fill="#ff0000"/>
<rect x="1757.7" y="249.1" width="10.8" height="10.8" fill="#ff0000"/>
<rect x="1799.75" y="254.6" width="10.8" height="10.8" fill="#ff0000"/>
<rect x="1841.8" y="260.8" width="10.8" height="10.8" fill="#ff0000"/>
<rect x="1883.85" y="267.6" width="10.8" height="10.8" fill="#ff0000"/>
<rect x="1925.9" y="274.6" width="10.8" height="10.8" fill="#ff0000"/>
<rect x="1967.95" y="282.6" width="10.8" height="10.8" fill="#ff0000"/>
<rect x="2010" y="295.5" width="10.8" height="10.8" fill="#ff0000"/>
<rect x="2052.05" y="312.8" width="10.8" height="10.8" fill="#ff0000"/>
<rect x="2094.1" y="343.2" width="10.8" height="10.8" fill="#ff0000"/>
<rect x="2136.15" y="395.6" width="10.8" height="10.8" fill="#ff0000"/>
<rect x="2178.4" y="566.1" width="10.8" height="10.8" fill="#ff0000"/>
<rect x="2221.6" y="658.6" width="10.8" height="10.8" fill="#ff0000"/>
<rect x="2262.3" y="308.56" width="10.8" height="10.8" fill="#ff0000"/>
<rect x="2304.35" y="307" width="10.8" height="10.8" fill="#ff0000"/>
</g>
<g id="cb-blue">
<path transform="scale(0.5882 1)" d="M2430.15 191.2 L2440.78 192.13 L2451.4 193.09 L2462.03 194.07 L2472.65 195.09 L2483.28 196.13 L2493.9 197.2 L2504.53 198.31 L2515.15 199.49 L2525.78 200.72 L2536.4 201.96 L2547.03 203.19 L2557.65 204.38 L2568.28 205.49 L2578.9 206.54 L2589.53 207.56 L2600.15 208.54 L2610.78 209.5 L2621.4 210.43 L2632.03 211.34 L2642.65 212.23 L2653.28 213.08 L2663.9 213.9 L2674.53 214.7 L2685.15 215.49 L2695.78 216.29 L2706.4 217.11 L2717.03 217.96 L2727.65 218.85 L2738.28 219.76 L2748.9 220.67 L2759.53 221.58 L2770.15 222.47 L2780.78 223.34 L2791.4 224.17 L2802.03 224.97 L2812.65 225.75 L2823.28 226.53 L2833.9 227.3 L2844.53 228.08 L2855.15 228.86 L2865.78 229.66 L2876.4 230.45 L2887.03 231.24 L2897.65 232.04 L2908.28 232.85 L2918.9 233.66 L2929.53 234.49 L2940.15 235.33 L2950.78 236.18 L2961.4 237.04 L2972.03 237.91 L2982.65 238.78 L2993.28 239.67 L3003.9 240.56 L3014.53 241.46 L3025.15 242.36 L3035.78 243.28 L3046.4 244.2 L3057.03 245.15 L3067.65 246.1 L3078.28 247.08 L3088.9 248.08 L3099.53 249.1 L3110.15 250.13 L3120.78 251.15 L3131.4 252.17 L3142.03 253.17 L3152.65 254.14 L3163.28 255.1 L3173.9 256.05 L3184.53 257 L3195.15 257.97 L3205.78 258.94 L3216.4 259.94 L3227.03 260.93 L3237.65 261.91 L3248.28 262.91 L3258.9 263.94 L3269.53 265.02 L3280.15 266.16 L3290.78 267.38 L3301.4 268.69 L3312.03 270.08 L3322.65 271.52 L3333.28 273 L3343.9 274.49 L3354.53 275.98 L3365.15 277.41 L3375.78 278.78 L3386.4 280.16 L3397.03 281.61 L3407.65 283.18 L3418.28 284.94 L3428.9 286.94 L3439.53 289.34 L3450.15 292.1 L3460.78 295.19 L3471.4 298.51 L3482.03 302.03 L3492.65 305.66 L3503.28 309.37 L3513.9 313.2 L3524.53 317.23 L3535.15 321.53 L3545.78 326.15 L3556.4 331.17 L3567.03 336.65 L3577.65 342.66 L3588.28 349.31 L3598.9 356.65 L3609.53 364.72 L3620.15 373.57 L3630.78 383.24 L3641.4 393.82 L3652.03 407.5 L3662.65 418.81 L3672 431.2 L3682.62 450.17 L3693.25 475 L3703.88 499.81 L3711.1 514.44 L3712.8 519.02 L3721.72 558.26 L3729.38 605.29 L3733.62 634.48 L3737.45 654.34 L3740 662.99 L3742.12 668.08 L3742.97 669.48 L3745.1 671.68 L3745.95 672.25 L3746.38 672.42 L3746.8 672.5 L3748.5 671.02 L3751.47 667.2 L3753.17 664.01 L3754.45 660.45 L3756.57 650.97 L3759.55 632.98 L3765.07 589.26 L3771.03 556.27 L3774 534 L3784.62 431.92 L3788.03 401.82 L3795.25 355.35 L3799.5 336.47 L3802.9 326.59 L3807.15 317.82 L3810.12 313.48 L3818.2 305.46 L3821.6 303.2 L3823.72 302.33 L3834.35 301.44 L3844.97 301.03 L3855.6 300.9 L3866.22 300.9 L3876.85 300.9 L3887.47 300.9 L3898.1 300.9 L3908.72 300.9 L3919.35 300.9 L3929.97 300.9 L3940.6 300.9 L3951.22 300.9 L3961.85 300.9 L3972.47 300.9 L3976.3 300.9" fill="none" stroke="#0b5fa5" stroke-linejoin="round" stroke-width="3.4" stroke-opacity="0.6"/>
<path d="M2160 431.2 L2166.25 450.17 L2172.5 475 L2178.75 499.81 L2183 514.44 L2184 519.02 L2189.25 558.26 L2193.75 605.29 L2196.25 634.48 L2198.5 654.34 L2200 662.99 L2201.25 668.08 L2201.75 669.48 M2206.75 667.2 L2207.75 664.01 L2208.5 660.45 L2209.75 650.97 L2211.5 632.98 L2214.75 589.26 L2218.25 556.27 L2220 534 L2226.25 431.92 L2228.25 401.82 L2232.5 355.35 L2235 336.47 L2237 326.59 L2239.5 317.82" fill="none" stroke="#0b5fa5" stroke-linejoin="round" stroke-width="2" stroke-opacity="0.55"/>
<g clip-path="url(#clip-b)"><circle cx="1427.2" cy="191.6" r="5.35" fill="#0b5fa5"/></g>
<circle cx="1468.75" cy="197.9" r="5.35" fill="#0b5fa5"/>
<circle cx="1510.8" cy="205.9" r="5.35" fill="#0b5fa5"/>
<circle cx="1552.85" cy="212.4" r="5.35" fill="#0b5fa5"/>
<circle cx="1594.9" cy="217.9" r="5.35" fill="#0b5fa5"/>
<circle cx="1636.95" cy="223.9" r="5.35" fill="#0b5fa5"/>
<circle cx="1679" cy="229.2" r="5.35" fill="#0b5fa5"/>
<circle cx="1721.05" cy="234.6" r="5.35" fill="#0b5fa5"/>
<circle cx="1763.1" cy="240.4" r="5.35" fill="#0b5fa5"/>
<circle cx="1805.15" cy="246.6" r="5.35" fill="#0b5fa5"/>
<circle cx="1847.2" cy="253.4" r="5.35" fill="#0b5fa5"/>
<circle cx="1889.25" cy="259.9" r="5.35" fill="#0b5fa5"/>
<circle cx="1931.3" cy="266.9" r="5.35" fill="#0b5fa5"/>
<circle cx="1973.35" cy="276.4" r="5.35" fill="#0b5fa5"/>
<circle cx="2015.4" cy="286.8" r="5.35" fill="#0b5fa5"/>
<circle cx="2057.45" cy="307.8" r="5.35" fill="#0b5fa5"/>
<circle cx="2099.5" cy="338.2" r="5.35" fill="#0b5fa5"/>
<circle cx="2141.55" cy="393.4" r="5.35" fill="#0b5fa5"/>
<circle cx="2183.8" cy="518.4" r="5.35" fill="#0b5fa5"/>
<circle cx="2226" cy="436.4" r="5.35" fill="#0b5fa5"/>
<circle cx="2267.7" cy="301.3" r="5.35" fill="#0b5fa5"/>
<circle cx="2309.75" cy="301.3" r="5.35" fill="#0b5fa5"/>
</g>
<g id="cb-yellow">
<path transform="scale(0.5882 1)" d="M2430.15 155.8 L2440.78 156.32 L2451.4 156.91 L2462.03 157.55 L2472.65 158.25 L2483.28 158.99 L2493.9 159.77 L2504.53 160.62 L2515.15 161.56 L2525.78 162.59 L2536.4 163.67 L2547.03 164.78 L2557.65 165.9 L2568.28 166.99 L2578.9 168.12 L2589.53 169.31 L2600.15 170.52 L2610.78 171.72 L2621.4 172.84 L2632.03 173.85 L2642.65 174.71 L2653.28 175.44 L2663.9 176.1 L2674.53 176.7 L2685.15 177.28 L2695.78 177.86 L2706.4 178.49 L2717.03 179.17 L2727.65 179.88 L2738.28 180.61 L2748.9 181.36 L2759.53 182.12 L2770.15 182.88 L2780.78 183.65 L2791.4 184.43 L2802.03 185.24 L2812.65 186.07 L2823.28 186.89 L2833.9 187.71 L2844.53 188.5 L2855.15 189.26 L2865.78 189.98 L2876.4 190.66 L2887.03 191.33 L2897.65 192 L2908.28 192.66 L2918.9 193.34 L2929.53 194.05 L2940.15 194.77 L2950.78 195.5 L2961.4 196.24 L2972.03 196.99 L2982.65 197.75 L2993.28 198.51 L3003.9 199.28 L3014.53 200.06 L3025.15 200.84 L3035.78 201.63 L3046.4 202.44 L3057.03 203.26 L3067.65 204.11 L3078.28 204.99 L3088.9 205.9 L3099.53 206.83 L3110.15 207.78 L3120.78 208.74 L3131.4 209.71 L3142.03 210.66 L3152.65 211.6 L3163.28 212.53 L3173.9 213.47 L3184.53 214.42 L3195.15 215.4 L3205.78 216.41 L3216.4 217.48 L3227.03 218.61 L3237.65 219.8 L3248.28 221.02 L3258.9 222.25 L3269.53 223.48 L3280.15 224.67 L3290.78 225.81 L3301.4 226.92 L3312.03 228 L3322.65 229.09 L3333.28 230.19 L3343.9 231.31 L3354.53 232.48 L3365.15 233.64 L3375.78 234.77 L3386.4 235.9 L3397.03 237.11 L3407.65 238.44 L3418.28 239.94 L3428.9 241.67 L3439.53 243.78 L3450.15 246.27 L3460.78 249.09 L3471.4 252.2 L3482.03 255.54 L3492.65 259.08 L3503.28 262.8 L3513.9 266.89 L3524.53 271.38 L3535.15 276.26 L3545.78 281.52 L3556.4 287.15 L3567.03 293.16 L3577.65 299.59 L3588.28 306.6 L3598.9 314.23 L3609.53 322.5 L3620.15 331.46 L3630.78 341.14 L3641.4 351.59 L3652.03 364.29 L3662.65 378.69 L3673.28 392.73 L3683.9 408.4 L3694.53 427.58 L3704.72 452.1 L3715.35 484.14 L3722.57 503.36 L3724.7 511.03 L3725.55 515.21 L3728.95 539.17 L3735.75 579.2 L3737.88 595.73 L3740.85 632.46 L3743.4 650.99 L3746.38 665.68 L3748.07 671.79 L3748.5 673 L3750.2 671.45 L3753.6 666.63 L3756.15 661.55 L3758.28 655.63 L3759.12 652.68 L3760.4 645.55 L3766.35 610.17 L3771.03 566.99 L3773.57 537.76 L3774.85 528.13 L3776.97 515.78 L3777.82 508.44 L3780.8 471.42 L3784.62 435.08 L3787.17 403.84 L3788.45 394 L3791.85 375.75 L3800.78 310.33 L3802.9 299.01 L3807.15 284.23 L3809.7 277.94 L3814.8 269.82 L3819.47 264.73 L3829.25 258.03 L3834.35 255.84 L3844.97 254.06 L3855.6 253.22 L3866.22 252.77 L3876.85 252.4 L3887.47 252.09 L3898.1 251.85 L3908.72 251.65 L3919.35 251.5 L3929.97 251.36 L3940.6 251.24 L3951.22 251.14 L3961.85 251.06 L3972.47 251.01 L3976.64 251" fill="none" stroke="#ffc000" stroke-linejoin="round" stroke-width="3.4" stroke-opacity="0.6"/>
<path d="M2167 408.4 L2173.25 427.58 L2179.25 452.1 L2185.5 484.14 L2189.75 503.36 L2191 511.03 L2191.5 515.21 L2193.5 539.17 L2197.5 579.2 L2198.75 595.73 L2200.5 632.46 L2202 650.99 L2203.75 665.68 L2204.75 671.79 L2205 673 M2208 666.63 L2209.5 661.55 L2210.75 655.63 L2211.25 652.68 L2212 645.55 L2215.5 610.17 L2218.25 566.99 L2219.75 537.76 L2220.5 528.13 L2221.75 515.78 L2222.25 508.44 L2224 471.42 L2226.25 435.08 L2227.75 403.84 L2228.5 394 L2230.5 375.75 L2235.75 310.33 L2237 299.01 L2239.5 284.23 L2241 277.94 L2244 269.82" fill="none" stroke="#ffc000" stroke-linejoin="round" stroke-width="2" stroke-opacity="0.55"/>
<g clip-path="url(#clip-b)"><path d="M1426.2 147.9H1428.2L1434.2 161.2H1420.2Z" fill="#ffc000"/></g>
<path d="M1467.75 152.1H1469.75L1475.75 165.4H1461.75Z" fill="#ffc000"/>
<path d="M1509.8 159.1H1511.8L1517.8 172.4H1503.8Z" fill="#ffc000"/>
<path d="M1551.85 166.6H1553.85L1559.85 179.9H1545.85Z" fill="#ffc000"/>
<path d="M1593.9 170.9H1595.9L1601.9 184.2H1587.9Z" fill="#ffc000"/>
<path d="M1635.95 175.9H1637.95L1643.95 189.2H1629.95Z" fill="#ffc000"/>
<path d="M1678 181.3H1680L1686 194.6H1672Z" fill="#ffc000"/>
<path d="M1720.05 185.9H1722.05L1728.05 199.2H1714.05Z" fill="#ffc000"/>
<path d="M1762.1 190.9H1764.1L1770.1 204.2H1756.1Z" fill="#ffc000"/>
<path d="M1804.15 196.3H1806.15L1812.15 209.6H1798.15Z" fill="#ffc000"/>
<path d="M1846.2 202.6H1848.2L1854.2 215.9H1840.2Z" fill="#ffc000"/>
<path d="M1888.25 209.1H1890.25L1896.25 222.4H1882.25Z" fill="#ffc000"/>
<path d="M1930.3 217.1H1932.3L1938.3 230.4H1924.3Z" fill="#ffc000"/>
<path d="M1972.35 224.6H1974.35L1980.35 237.9H1966.35Z" fill="#ffc000"/>
<path d="M2014.4 233.3H2016.4L2022.4 246.6H2008.4Z" fill="#ffc000"/>
<path d="M2056.45 252.9H2058.45L2064.45 266.2H2050.45Z" fill="#ffc000"/>
<path d="M2098.5 286.5H2100.5L2106.5 299.8H2092.5Z" fill="#ffc000"/>
<path d="M2140.55 342.9H2142.55L2148.55 356.2H2134.55Z" fill="#ffc000"/>
<path d="M2182.8 468.1H2184.8L2190.8 481.4H2176.8Z" fill="#ffc000"/>
<path d="M2225.2 428.1H2227.2L2233.2 441.4H2219.2Z" fill="#ffc000"/>
<path d="M2266.7 245.35H2268.7L2274.7 258.65H2260.7Z" fill="#ffc000"/>
<path d="M2308.75 243.51H2310.75L2316.75 256.81H2302.75Z" fill="#ffc000"/>
</g>
<g id="cb-green">
<path transform="scale(0.5882 1)" d="M2430.15 197.5 L2440.78 198.84 L2451.4 200.2 L2462.03 201.58 L2472.65 202.97 L2483.28 204.38 L2493.9 205.8 L2504.53 207.25 L2515.15 208.75 L2525.78 210.28 L2536.4 211.82 L2547.03 213.33 L2557.65 214.8 L2568.28 216.19 L2578.9 217.53 L2589.53 218.85 L2600.15 220.14 L2610.78 221.39 L2621.4 222.59 L2632.03 223.72 L2642.65 224.77 L2653.28 225.75 L2663.9 226.67 L2674.53 227.55 L2685.15 228.41 L2695.78 229.25 L2706.4 230.1 L2717.03 230.96 L2727.65 231.82 L2738.28 232.67 L2748.9 233.51 L2759.53 234.35 L2770.15 235.19 L2780.78 236.04 L2791.4 236.89 L2802.03 237.75 L2812.65 238.6 L2823.28 239.46 L2833.9 240.33 L2844.53 241.2 L2855.15 242.07 L2865.78 242.94 L2876.4 243.81 L2887.03 244.68 L2897.65 245.56 L2908.28 246.46 L2918.9 247.38 L2929.53 248.34 L2940.15 249.33 L2950.78 250.35 L2961.4 251.39 L2972.03 252.45 L2982.65 253.52 L2993.28 254.6 L3003.9 255.68 L3014.53 256.77 L3025.15 257.89 L3035.78 259.01 L3046.4 260.14 L3057.03 261.26 L3067.65 262.38 L3078.28 263.5 L3088.9 264.6 L3099.53 265.7 L3110.15 266.81 L3120.78 267.92 L3131.4 269.05 L3142.03 270.19 L3152.65 271.36 L3163.28 272.53 L3173.9 273.72 L3184.53 274.92 L3195.15 276.12 L3205.78 277.33 L3216.4 278.53 L3227.03 279.7 L3237.65 280.86 L3248.28 282.04 L3258.9 283.24 L3269.53 284.49 L3280.15 285.8 L3290.78 287.21 L3301.4 288.68 L3312.03 290.22 L3322.65 291.83 L3333.28 293.49 L3343.9 295.21 L3354.53 296.97 L3365.15 298.74 L3375.78 300.5 L3386.4 302.32 L3397.03 304.25 L3407.65 306.35 L3418.28 308.68 L3428.9 311.31 L3439.53 314.49 L3450.15 318.2 L3460.78 322.3 L3471.4 326.68 L3482.03 331.19 L3492.65 335.7 L3503.28 340.12 L3513.9 344.52 L3524.53 349 L3535.15 353.63 L3545.78 358.48 L3556.4 363.63 L3567.03 369.15 L3577.65 375.27 L3588.28 382.29 L3598.9 390.26 L3609.53 399.21 L3620.15 407.62 L3628.65 415.46 L3632.05 419.74 L3642.67 437.82 L3652.45 453 L3663.07 474.16 L3673.7 494.71 L3684.32 518.87 L3690.7 533.09 L3693.25 541.48 L3703.88 583.64 L3711.53 619.42 L3712.38 624.42 L3713.22 631.81 L3721.3 730.1 L3724.7 766 L3726.82 791.3 L3728.53 803.45 L3732.78 826.53 L3733.2 828.12 L3734.05 830 L3734.9 831.25 L3735.41 831.5 L3736.69 830.39 L3739.24 826.99 L3740.51 824.61 L3741.79 820.95 L3742.21 819.13 L3742.64 815.39 L3744.34 794.22 L3751.56 738.53 L3754.11 711.93 L3756.66 673.98 L3762.19 570.29 L3763.04 560.77 L3764.31 549.81 L3765.16 539.65 L3765.59 532.05 L3766.01 516.98 L3766.44 508.2 L3767.29 496.84 L3774.09 436.63 L3777.49 398.89 L3780.89 375.97 L3786.41 348.19 L3787.69 343.41 L3788.54 341.17 L3792.36 334.83 L3796.19 330.59 L3805.11 324.41 L3808.09 323.12 L3810.21 322.64 L3820.84 322.14 L3831.46 321.84 L3842.09 321.67 L3852.71 321.54 L3863.34 321.41 L3873.96 321.28 L3884.59 321.15 L3895.21 321.05 L3905.84 320.97 L3916.46 320.92 L3927.09 320.9 L3937.71 320.9 L3948.34 320.9 L3958.96 320.9 L3969.59 320.9 L3976.64 320.9" fill="none" stroke="#00c060" stroke-linejoin="round" stroke-width="3.4" stroke-opacity="0.6"/>
<path d="M2136.5 419.74 L2142.75 437.82 L2148.5 453 L2154.75 474.16 L2161 494.71 L2167.25 518.87 L2171 533.09 L2172.5 541.48 L2178.75 583.64 L2183.25 619.42 L2183.75 624.42 L2184.25 631.81 L2189 730.1 L2191 766 L2192.25 791.3 L2193.25 803.45 L2195.75 826.53 L2196 828.12 L2196.5 830 M2199.55 826.99 L2200.3 824.61 L2201.05 820.95 L2201.3 819.13 L2201.55 815.39 L2202.55 794.22 L2206.8 738.53 L2208.3 711.93 L2209.8 673.98 L2213.05 570.29 L2213.55 560.77 L2214.3 549.81 L2214.8 539.65 L2215.05 532.05 L2215.3 516.98 L2215.55 508.2 L2216.05 496.84 L2220.05 436.63 L2222.05 398.89 L2224.05 375.97 L2227.3 348.19 L2228.05 343.41 L2228.55 341.17 L2230.8 334.83" fill="none" stroke="#00c060" stroke-linejoin="round" stroke-width="2" stroke-opacity="0.55"/>
<g clip-path="url(#clip-b)"><path d="M1420.2 192.1H1434.2L1428.2 205.4H1426.2Z" fill="#00c060"/></g>
<path d="M1461.75 200.8H1475.75L1469.75 214.1H1467.75Z" fill="#00c060"/>
<path d="M1503.8 210.8H1517.8L1511.8 224.1H1509.8Z" fill="#00c060"/>
<path d="M1545.85 219.1H1559.85L1553.85 232.4H1551.85Z" fill="#00c060"/>
<path d="M1587.9 225.1H1601.9L1595.9 238.4H1593.9Z" fill="#00c060"/>
<path d="M1629.95 230.8H1643.95L1637.95 244.1H1635.95Z" fill="#00c060"/>
<path d="M1672 236.6H1686L1680 249.9H1678Z" fill="#00c060"/>
<path d="M1714.05 242.6H1728.05L1722.05 255.9H1720.05Z" fill="#00c060"/>
<path d="M1756.1 249.6H1770.1L1764.1 262.9H1762.1Z" fill="#00c060"/>
<path d="M1798.15 257.1H1812.15L1806.15 270.4H1804.15Z" fill="#00c060"/>
<path d="M1840.2 264.6H1854.2L1848.2 277.9H1846.2Z" fill="#00c060"/>
<path d="M1882.25 272.6H1896.25L1890.25 285.9H1888.25Z" fill="#00c060"/>
<path d="M1924.3 280.8H1938.3L1932.3 294.1H1930.3Z" fill="#00c060"/>
<path d="M1966.35 291.6H1980.35L1974.35 304.9H1972.35Z" fill="#00c060"/>
<path d="M2008.4 305.2H2022.4L2016.4 318.5H2014.4Z" fill="#00c060"/>
<path d="M2050.45 332.4H2064.45L2058.45 345.7H2056.45Z" fill="#00c060"/>
<path d="M2092.5 364.9H2106.5L2100.5 378.2H2098.5Z" fill="#00c060"/>
<path d="M2134.9 430.2H2148.9L2142.9 443.5H2140.9Z" fill="#00c060"/>
<path d="M2176.8 619.6H2190.8L2184.8 632.9H2182.8Z" fill="#00c060"/>
<path d="M2218.3 359.5H2232.3L2226.3 372.8H2224.3Z" fill="#00c060"/>
<path d="M2260.7 316.11H2274.7L2268.7 329.41H2266.7Z" fill="#00c060"/>
<path d="M2302.75 315.5H2316.75L2310.75 328.8H2308.75Z" fill="#00c060"/>
</g>
<text transform="translate(1283.8 110.2) rotate(-90) scale(0.953 1)" font-size="45.5">Exo</text>
<path d="M1304 37 V103.8" stroke="#000" stroke-width="2.8" fill="none"/>
<path d="M1304 25 L1310.8 46.5 L1297.2 46.5 Z" fill="#000"/>
<text transform="translate(1435.2 112.2) scale(1.01 1)" font-size="55" font-weight="bold">b)</text>
<text transform="translate(1306.3 699.6) rotate(-90) scale(0.962 1)" font-size="63.9">Heat Flow (W/g)</text>
<text transform="translate(1710.9 1042.4) scale(0.97 1)" font-size="63.9">Temperature (°C)</text>
</g>
</svg></body></html>
